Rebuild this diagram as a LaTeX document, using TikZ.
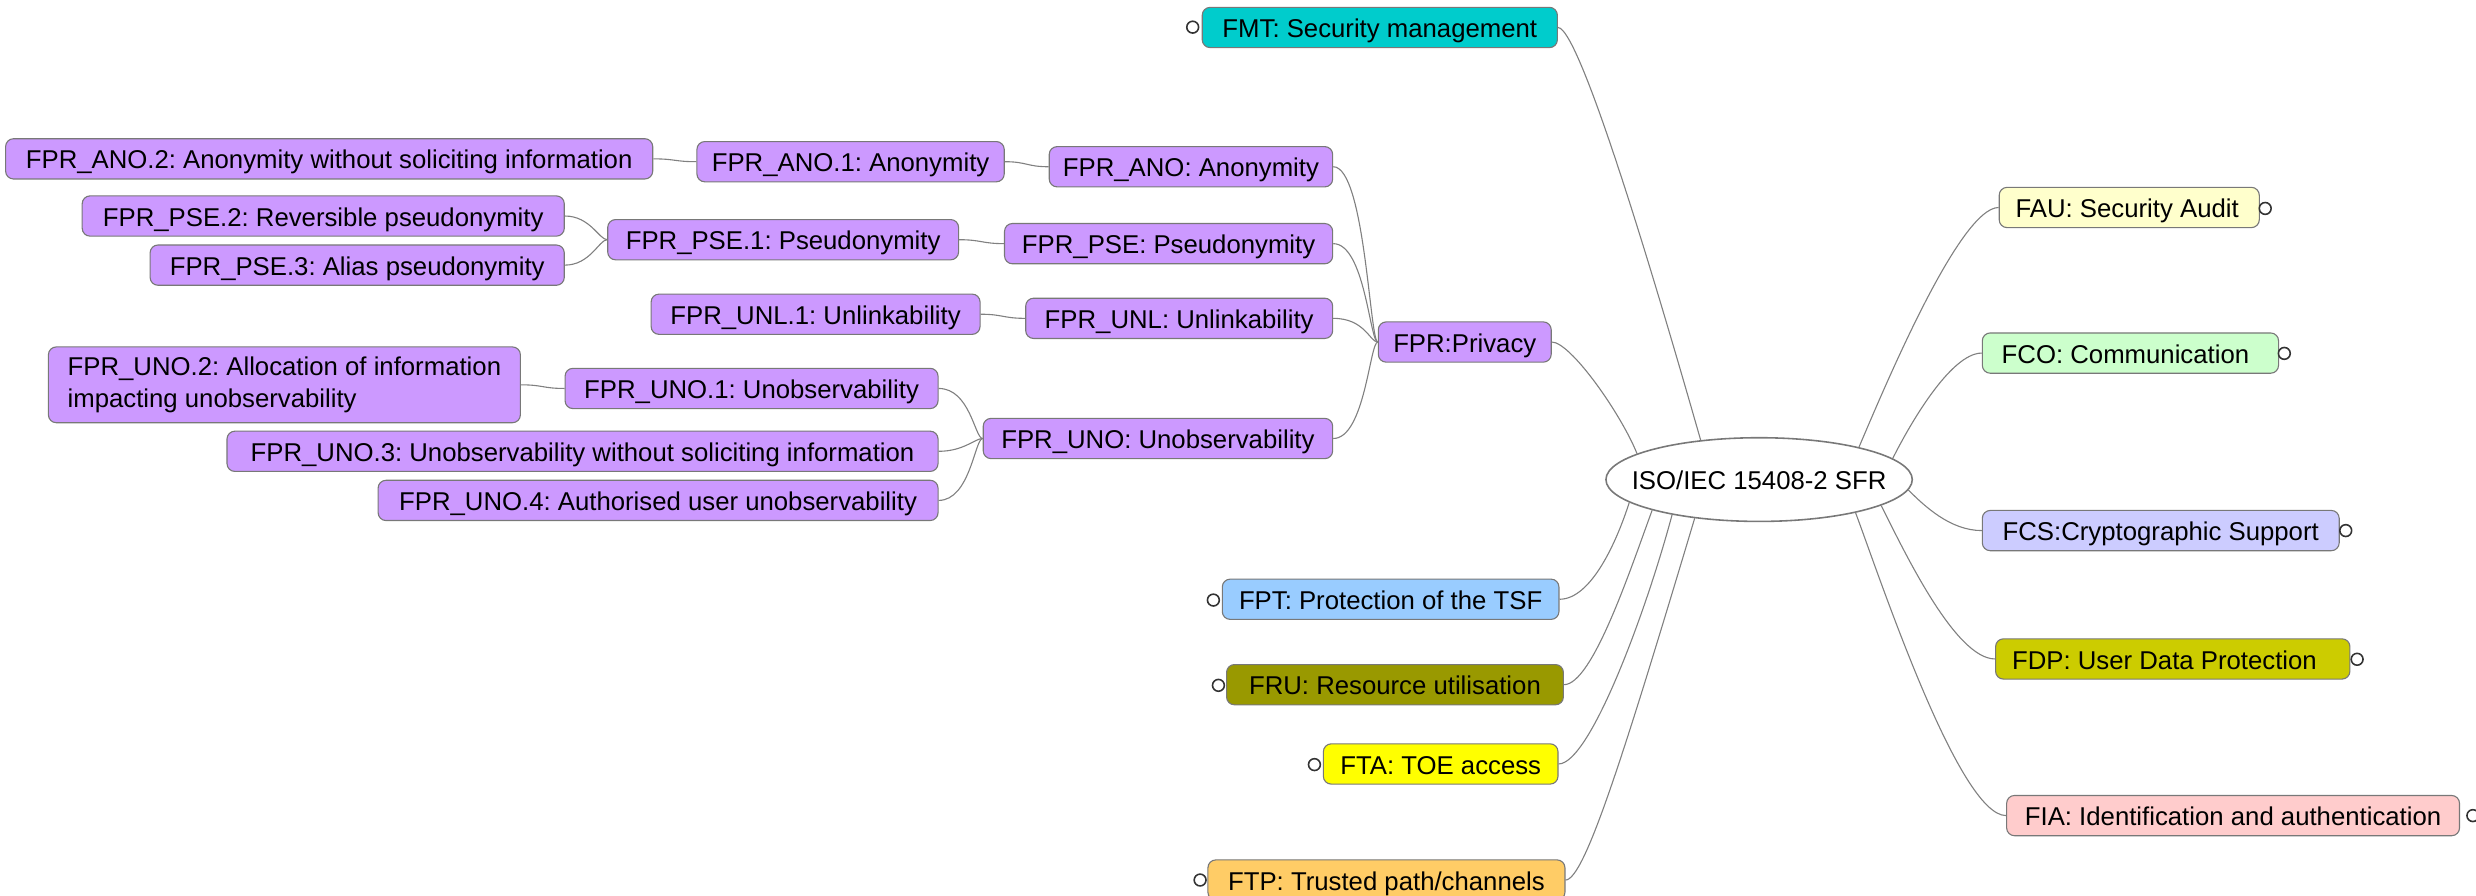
\documentclass[tikz,border=0pt]{standalone}
\usepackage{fontspec}
\setmainfont{Liberation Sans}
\usetikzlibrary{shapes.geometric}
\frenchspacing

\definecolor{edgegray}{RGB}{128,128,128}
\definecolor{framegray}{RGB}{120,120,120}
\definecolor{privacy}{RGB}{204,153,255}
\definecolor{fmtcol}{RGB}{0,204,204}
\definecolor{fptcol}{RGB}{153,204,255}
\definecolor{frucol}{RGB}{153,153,0}
\definecolor{ftacol}{RGB}{255,255,0}
\definecolor{ftpcol}{RGB}{255,204,102}
\definecolor{faucol}{RGB}{255,255,204}
\definecolor{fcocol}{RGB}{204,255,204}
\definecolor{fcscol}{RGB}{204,204,255}
\definecolor{fdpcol}{RGB}{204,204,0}
\definecolor{fiacol}{RGB}{255,204,204}

\begin{document}
\begin{tikzpicture}[x=1pt,y=-1pt,
  every node/.style={font=\fontsize{16.3}{16.9}\selectfont},
  boxbase/.style={draw=framegray, line width=0.7pt, rounded corners=5pt,
    minimum height=25.5pt, inner xsep=2pt, inner ysep=0pt, anchor=west},
  topic/.style={boxbase, text height=15.6pt, text depth=2.8pt},
  fpr/.style={topic, fill=privacy},
  fold/.style={circle, draw=black!80, fill=white, line width=1pt,
    minimum size=7.5pt, inner sep=0pt},
  link/.style={draw=edgegray, line width=0.7pt},
]
\useasboundingbox (0,0) rectangle (1568,567);

% privacy branch
\node[fpr, minimum width=409.8pt] (ano2) at (3.2,100.6) {FPR\_ANO.2: Anonymity without soliciting information};
\node[fpr, minimum width=194.6pt] (ano1) at (441,102.4) {FPR\_ANO.1: Anonymity};
\node[fpr, minimum width=179.5pt] (ano) at (664.1,105.6) {FPR\_ANO: Anonymity};
\node[fpr, minimum width=305.3pt] (pse2) at (51.7,136.8) {FPR\_PSE.2: Reversible pseudonymity};
\node[fpr, minimum width=262.3pt] (pse3) at (94.7,167.9) {FPR\_PSE.3: Alias pseudonymity};
\node[fpr, minimum width=222.2pt] (pse1) at (384.5,151.8) {FPR\_PSE.1: Pseudonymity};
\node[fpr, minimum width=207.8pt] (pse) at (635.8,154.3) {FPR\_PSE: Pseudonymity};
\node[fpr, minimum width=208.3pt] (unl1) at (412,199) {FPR\_UNL.1: Unlinkability};
\node[fpr, minimum width=194.4pt] (unl) at (649.2,201.6) {FPR\_UNL: Unlinkability};
\node[fpr, minimum width=109.5pt] (priv) at (872.5,216.6) {FPR:Privacy};
\node[boxbase, fill=privacy, minimum width=298.9pt, minimum height=48pt, align=left,
  font=\fontsize{16.3}{20}\selectfont]
  (uno2) at (30.3,243.7) {FPR\_UNO.2: Allocation of information\\impacting unobservability};
\node[fpr, minimum width=236.2pt] (uno1) at (357.5,246) {FPR\_UNO.1: Unobservability};
\node[fpr, minimum width=450.3pt] (uno3) at (143.4,285.8) {FPR\_UNO.3: Unobservability without soliciting information};
\node[fpr, minimum width=354.6pt] (uno4) at (239.1,316.9) {FPR\_UNO.4: Authorised user unobservability};
\node[fpr, minimum width=221.3pt] (uno) at (622.3,277.7) {FPR\_UNO: Unobservability};

% root
\node[ellipse, draw=framegray, line width=1pt, fill=white, minimum width=194pt,
  minimum height=53pt, inner sep=0pt, text height=15.6pt, text depth=2.8pt]
  (root) at (1114,303.7) {\makebox[100pt]{ISO/IEC 15408-2 SFR}};

% left classes
\node[topic, fill=fmtcol, minimum width=224.9pt] (fmt) at (761,17.4) {FMT: Security management};
\node[topic, fill=fptcol, minimum width=213.2pt] (fpt) at (773.7,379.5) {FPT: Protection of the TSF};
\node[topic, fill=frucol, minimum width=213.3pt] (fru) at (776.4,433.6) {FRU: Resource utilisation};
\node[topic, fill=ftacol, minimum width=148.6pt] (fta) at (837.7,483.8) {FTA: TOE access};
\node[topic, fill=ftpcol, minimum width=226.1pt] (ftp) at (764.6,557.3) {FTP: Trusted path/channels};

% right classes
\node[topic, fill=faucol, minimum width=164.7pt] (fau) at (1265.7,131.4) {FAU: Security Audit\hspace*{2.6pt}};
\node[topic, fill=fcocol, minimum width=187.6pt] (fco) at (1255,223.6) {FCO: Communication\hspace*{6.3pt}};
\node[topic, fill=fcscol, minimum width=226pt] (fcs) at (1255,336) {FCS:Cryptographic Support};
\node[topic, fill=fdpcol, minimum width=224.4pt] (fdp) at (1263.4,417.3) {FDP: User Data Protection\hspace*{10.5pt}};
\node[topic, fill=fiacol, minimum width=286.8pt] (fia) at (1270.4,516.5) {FIA: Identification and authentication};

% fold markers
\node[fold] (fmtc) at (755.3,17.2) {};
\node[fold] (fptc) at (768.4,380) {};
\node[fold] (fruc) at (771.6,434) {};
\node[fold] (ftac) at (832.4,484.2) {};
\node[fold] (ftpc) at (760,557.3) {};
\node[fold] (fauc) at (1434.5,132) {};
\node[fold] (fcoc) at (1446.6,223.8) {};
\node[fold] (fcsc) at (1485.5,336) {};
\node[fold] (fdpc) at (1492.7,417.5) {};
\node[fold] (fiac) at (1566,516.5) {};

% privacy links
\draw[link] (ano2.east) .. controls +(14,0) and +(-14,0) .. (ano1.west);
\draw[link] (ano1.east) .. controls +(14,0) and +(-14,0) .. (ano.west);
\draw[link] (pse1.east) .. controls +(14,0) and +(-14,0) .. (pse.west);
\draw[link] (unl1.east) .. controls +(14,0) and +(-14,0) .. (unl.west);
\draw[link] (uno2.east) .. controls +(14,0) and +(-14,0) .. (uno1.west);
\draw[link] (pse2.east) .. controls +(16,0) and +(-5,0) .. (pse1.west);
\draw[link] (pse3.east) .. controls +(16,0) and +(-5,0) .. (pse1.west);
\draw[link] (uno1.east) .. controls +(20,0) and +(-5,0) .. (uno.west);
\draw[link] (uno3.east) .. controls +(16,0) and +(-5,0) .. (uno.west);
\draw[link] (uno4.east) .. controls +(20,0) and +(-5,0) .. (uno.west);
\draw[link] (ano.east) .. controls +(20,0) and +(-5,0) .. (priv.west);
\draw[link] (pse.east) .. controls +(20,0) and +(-5,0) .. (priv.west);
\draw[link] (unl.east) .. controls +(20,0) and +(-5,0) .. (priv.west);
\draw[link] (uno.east) .. controls +(20,0) and +(-5,0) .. (priv.west);

% root links
\draw[link] (priv.east) .. controls +(12,0) and +(-10,-25) .. (root.168);
\draw[link] (fmt.east) .. controls +(15,0) and +(-20,-70) .. (root.146.4);
\draw[link] (fpt.east) .. controls +(20,0) and +(-8,25) .. (root.-170.4);
\draw[link] (fru.east) .. controls +(18,0) and +(-14,38) .. (root.-164.2);
\draw[link] (fta.east) .. controls +(20,0) and +(-16,60) .. (root.-158.5);
\draw[link] (ftp.east) .. controls +(12,0) and +(-45,150) .. (root.-149);
\draw[link] (root.18.6) .. controls +(15,-35) and +(-25,0) .. (fau.west);
\draw[link] (root.9.3) .. controls +(10,-20) and +(-20,0) .. (fco.west);
\draw[link] (root.-4.9) .. controls +(10,10) and +(-20,0) .. (fcs.west);
\draw[link] (root.-12) .. controls +(15,30) and +(-25,0) .. (fdp.west);
\draw[link] (root.-19.1) .. controls +(15,40) and +(-30,0) .. (fia.west);
\end{tikzpicture}
\end{document}
